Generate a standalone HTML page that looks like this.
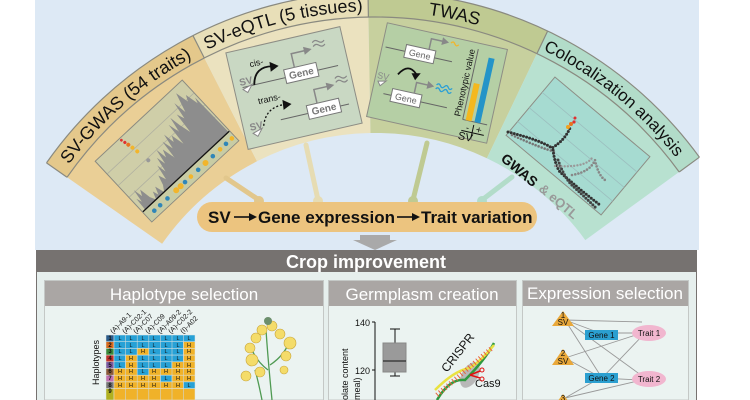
<!DOCTYPE html>
<html><head><meta charset="utf-8"><style>
html,body{margin:0;padding:0;background:#fff;overflow:hidden;}
svg{display:block;font-family:"Liberation Sans",Arial,sans-serif;}
</style></head><body>
<svg width="750" height="400" viewBox="0 0 750 400" xmlns="http://www.w3.org/2000/svg" xmlns:xlink="http://www.w3.org/1999/xlink">
<defs>
<path id="lab" d="M 44.2 202 A 382 382 0 0 1 705.8 202" />
</defs>
<rect x="35" y="0" width="664" height="250" fill="#dde9f5"/>
<path d="M 46.5 162.9 A 401 401 0 0 1 193.0 35.7 L 257.0 161.3 A 260 260 0 0 0 162.1 243.8 Z" fill="#eacf96"/>
<path d="M 193.0 35.7 A 401 401 0 0 1 368.0 -7.9 L 370.5 133.0 A 260 260 0 0 0 257.0 161.3 Z" fill="#ebe2bf"/>
<path d="M 368.0 -7.9 A 401 401 0 0 1 547.6 31.1 L 486.9 158.3 A 260 260 0 0 0 370.5 133.0 Z" fill="#c7d09e"/>
<path d="M 547.6 31.1 A 401 401 0 0 1 699.4 157.2 L 585.3 240.1 A 260 260 0 0 0 486.9 158.3 Z" fill="#b8e1d0"/>
<path d="M 46.5 162.9 A 401 401 0 0 1 193.0 35.7 L 204.3 58.0 A 376 376 0 0 0 67.0 177.3 Z" fill="#e4c88b"/>
<path d="M 193.0 35.7 A 401 401 0 0 1 368.0 -7.9 L 368.4 17.1 A 376 376 0 0 0 204.3 58.0 Z" fill="#e8dfb8"/>
<path d="M 368.0 -7.9 A 401 401 0 0 1 547.6 31.1 L 536.9 53.6 A 376 376 0 0 0 368.4 17.1 Z" fill="#bfca92"/>
<path d="M 547.6 31.1 A 401 401 0 0 1 699.4 157.2 L 679.2 172.0 A 376 376 0 0 0 536.9 53.6 Z" fill="#b2dcc9"/>
<g fill="none" stroke="#8a8a80" stroke-width="1.2">
<path d="M 46.5 162.9 A 401 401 0 0 1 699.4 157.2"/>
<path d="M 67.0 177.3 A 376 376 0 0 1 679.2 172.0"/>
<path d="M 46.5 162.9 L 67.0 177.3"/>
<path d="M 699.4 157.2 L 679.2 172.0"/>
<path d="M 193.0 35.7 L 204.3 58.0 M 368.0 -7.9 L 368.4 17.1 M 547.6 31.1 L 536.9 53.6"/>
</g>
<g font-size="18" fill="#111">
<text><textPath href="#lab" xlink:href="#lab" startOffset="127" text-anchor="middle">SV-GWAS (54 traits)</textPath></text>
<text><textPath href="#lab" xlink:href="#lab" startOffset="307" text-anchor="middle">SV-eQTL (5 tissues)</textPath></text>
<text><textPath href="#lab" xlink:href="#lab" startOffset="479" text-anchor="middle">TWAS</textPath></text>
<text font-size="17"><textPath href="#lab" xlink:href="#lab" startOffset="660" text-anchor="middle">Colocalization analysis</textPath></text>
</g>
<g stroke-width="5" stroke-linecap="round">
<line x1="226" y1="178" x2="259" y2="200" stroke="#e2c78c"/>
<line x1="306" y1="145" x2="318" y2="200" stroke="#e6dcb3"/>
<line x1="427" y1="143" x2="413" y2="200" stroke="#bfca92"/>
<line x1="512" y1="177" x2="482" y2="200" stroke="#b2dcc9"/>
</g>
<circle cx="259" cy="201" r="5" fill="#e2c78c"/><circle cx="318" cy="201" r="5" fill="#e6dcb3"/>
<circle cx="413" cy="201" r="5" fill="#bfca92"/><circle cx="482" cy="201" r="5" fill="#b2dcc9"/>
<!-- GWAS panel -->
<g transform="translate(167,151) rotate(-43)">
<rect x="-59.5" y="-41.5" width="119" height="83" fill="#cfcea8" stroke="#8a8a80"/>
<g stroke="#b0b0a0" stroke-width="0.8"><line x1="-59" y1="-24" x2="59" y2="-24"/><line x1="-59" y1="-8" x2="59" y2="-8"/><line x1="-59" y1="8" x2="59" y2="8"/></g>
<polygon points="-56,28 -55,14 -53,20 -51,6 -49,16 -46,10 -44,22 -41,28 -38,20 -36,26 -33,18 -30,28 -26,22 -23,12 -20,20 -17,4 -15,14 -12,-2 -10,8 -7,-8 -5,4 -2,-4 1,10 3,-10 6,2 9,-14 11,-2 14,-8 17,6 19,-18 22,-6 25,-22 27,-10 30,2 32,-20 35,-12 38,-30 40,-16 43,-26 46,-36 49,-22 52,-28 55,-14 57,-20 58,28" fill="#8d8d8d"/>
<circle cx="-20" cy="-6" r="2" fill="#999"/><circle cx="-22" cy="-20" r="2" fill="#f2b52b"/><circle cx="-23" cy="-26" r="2" fill="#f2b52b"/><circle cx="-24" cy="-31" r="2" fill="#e8731f"/><circle cx="-25" cy="-35" r="1.6" fill="#e03030"/><circle cx="-26" cy="-39" r="1.4" fill="#e03030"/>
<line x1="-59" y1="28" x2="59" y2="28" stroke="#111" stroke-width="1.3"/>
<rect x="-59" y="29" width="118" height="12" fill="#c8cca4"/>
<g fill="#2f86b8"><circle cx="-50" cy="35" r="2.3"/><circle cx="-42" cy="35" r="2.3"/><circle cx="-32" cy="35" r="2.3"/><circle cx="-8" cy="35" r="2.3"/><circle cx="10" cy="35" r="2.3"/><circle cx="30" cy="35" r="2.3"/><circle cx="48" cy="35" r="2.3"/></g>
<g fill="#f2b52b"><circle cx="-20" cy="35" r="3"/><circle cx="-14" cy="35" r="3"/><circle cx="0" cy="35" r="2.3"/><circle cx="20" cy="35" r="3"/><circle cx="40" cy="35" r="2.3"/><circle cx="56" cy="35" r="2.3"/></g>
</g>
<!-- eQTL panel -->
<g transform="translate(294,88) rotate(-13)">
<rect x="-58.5" y="-49.5" width="117" height="99" fill="#c9d8c3" stroke="#8d8d85"/>
<g stroke="#666" stroke-width="1"><line x1="-50" y1="-12" x2="48" y2="-12"/><line x1="-20" y1="28" x2="50" y2="28"/></g>
<rect x="-6" y="-20" width="33" height="14" fill="#fff" stroke="#777"/><text x="10.5" y="-9.5" font-size="10" font-weight="bold" fill="#777" text-anchor="middle">Gene</text>
<rect x="8" y="20" width="33" height="14" fill="#fff" stroke="#777"/><text x="24.5" y="30.5" font-size="10" font-weight="bold" fill="#777" text-anchor="middle">Gene</text>
<path d="M 5 -20 V -34 H 20" stroke="#888" stroke-width="1.5" fill="none"/><polygon points="18,-38 26,-34 18,-30" fill="#888"/>
<path d="M 19 20 V 6 H 34" stroke="#888" stroke-width="1.5" fill="none"/><polygon points="32,2 40,6 32,10" fill="#888"/>
<g stroke="#888" stroke-width="1.2" fill="none"><path d="M 28 -40 q 3 -3 6 0 t 6 0"/><path d="M 28 -36 q 3 -3 6 0 t 6 0"/><path d="M 42 0 q 3 -3 6 0 t 6 0"/><path d="M 42 4 q 3 -3 6 0 t 6 0"/></g>
<text x="-38" y="-30" font-size="9" fill="#111">cis-</text>
<path d="M -38 -12 Q -34 -30 -16 -26" stroke="#111" stroke-width="1.8" fill="none"/><polygon points="-18,-31 -10,-25 -19,-21" fill="#111"/>
<text x="-52" y="-14" font-size="10" font-weight="bold" fill="#888">SV</text><polygon points="-50,-10 -40,-13 -46,-6" fill="#fff" stroke="#888"/>
<text x="-38" y="8" font-size="9" fill="#111">trans-</text>
<path d="M -38 30 Q -32 12 -12 14" stroke="#111" stroke-width="1.3" stroke-dasharray="2 2" fill="none"/><polygon points="-14,9 -6,15 -15,19" fill="#111"/>
<text x="-52" y="32" font-size="10" font-weight="bold" fill="#888">SV</text><polygon points="-50,35 -40,32 -46,39" fill="#fff" stroke="#888"/>
</g>
<!-- TWAS panel -->
<g transform="translate(437,83) rotate(12.5)">
<rect x="-61.5" y="-48" width="123" height="96" fill="#b5cfa5" stroke="#8d8d85"/>
<g stroke="#666" stroke-width="1"><line x1="-58" y1="-24" x2="10" y2="-24"/><line x1="-50" y1="22" x2="15" y2="22"/></g>
<rect x="-38" y="-31" width="30" height="13" fill="#fff" stroke="#777"/><text x="-23" y="-21" font-size="9" fill="#666" text-anchor="middle">Gene</text>
<rect x="-42" y="15" width="30" height="13" fill="#fff" stroke="#777"/><text x="-27" y="25" font-size="9" fill="#666" text-anchor="middle">Gene</text>
<path d="M -15 -31 V -42 H -3" stroke="#888" stroke-width="1.5" fill="none"/><polygon points="-4,-46 3,-42 -4,-38" fill="#888"/>
<path d="M -20 15 V 4 H -8" stroke="#888" stroke-width="1.5" fill="none"/><polygon points="-9,0 -2,4 -9,8" fill="#888"/>
<path d="M 5 -42 q 2 -3 4 0 t 4 0" stroke="#f2b52b" stroke-width="1.3" fill="none"/>
<g stroke="#2a9fd6" stroke-width="1.3" fill="none"><path d="M 0 2 q 2 -3 4 0 t 4 0 t 4 0 t 4 0"/><path d="M 0 6 q 2 -3 4 0 t 4 0 t 4 0 t 4 0"/></g>
<path d="M -40 0 Q -32 -14 -22 -4" stroke="#111" stroke-width="1.8" fill="none"/><polygon points="-27,-4 -18,-6 -22,2" fill="#111"/>
<text x="-60" y="8" font-size="9" fill="#888">SV</text><polygon points="-58,11 -50,9 -55,15" fill="#fff" stroke="#888"/>
<line x1="33" y1="-42" x2="33" y2="30" stroke="#666"/><line x1="33" y1="30" x2="58" y2="30" stroke="#666"/>
<rect x="36" y="-8" width="6" height="38" fill="#f4b81f"/><rect x="45" y="-36" width="6" height="66" fill="#2494c8"/>
<text transform="translate(30,28) rotate(-90)" font-size="9" fill="#111">Phenotypic value</text>
<text x="38" y="40" font-size="9" fill="#111">-</text><text x="48" y="40" font-size="10" fill="#111">+</text>
<line x1="34" y1="41" x2="57" y2="41" stroke="#111"/><line x1="45" y1="33" x2="45" y2="47" stroke="#111"/>
<text x="32" y="50" font-size="11" fill="#111">SV</text>
</g>
<!-- Coloc panel -->
<g transform="translate(578,146) rotate(40)">
<rect x="-62" y="-38" width="124" height="76" fill="#a6dbd1" stroke="#8d8d85"/>
<g stroke="#9cbfbf" stroke-width="0.8"><line x1="-62" y1="-18" x2="62" y2="-18"/><line x1="-62" y1="2" x2="62" y2="2"/><line x1="-62" y1="20" x2="62" y2="20"/></g>
</g>
<g fill="none" stroke-linecap="round" stroke-dasharray="0 3.2">
<path d="M 508 132 Q 540 140 552 148 Q 565 140 570 128" stroke="#333" stroke-width="3"/>
<path d="M 512 135 Q 540 148 556 152" stroke="#777" stroke-width="2.6"/>
<path d="M 553 150 Q 555 165 560 172 Q 580 190 600 205" stroke="#333" stroke-width="3"/>
<path d="M 558 160 Q 565 180 575 188 Q 588 200 596 208" stroke="#444" stroke-width="3"/>
<path d="M 572 175 Q 590 172 595 160 Q 598 175 605 180" stroke="#888" stroke-width="2.6"/>
<path d="M 555 166 Q 585 168 592 158" stroke="#999" stroke-width="2.4"/>
</g>
<circle cx="568" cy="127" r="2" fill="#f2a21f"/><circle cx="571" cy="124" r="2" fill="#e8731f"/><circle cx="574" cy="122" r="1.6" fill="#e03030"/><circle cx="575" cy="118" r="1.5" fill="#e03030"/>
<text transform="translate(500,160) rotate(40)" font-size="14" font-weight="bold" fill="#111">GWAS</text>
<text transform="translate(538,190) rotate(40)" font-size="13" font-weight="bold" fill="#999">&amp; eQTL</text>
<!-- pill -->
<rect x="197" y="202" width="340" height="30" rx="15" fill="#ecc47f"/>
<g font-size="17" font-weight="bold" fill="#111">
<text x="208" y="223">SV</text>
<line x1="234" y1="217" x2="250" y2="217" stroke="#111" stroke-width="1.6"/><polygon points="249,213 257,217 249,221"/>
<text x="258" y="223">Gene expression</text>
<line x1="397" y1="217" x2="413" y2="217" stroke="#111" stroke-width="1.6"/><polygon points="412,213 420,217 412,221"/>
<text x="421" y="223">Trait variation</text>
</g>
<polygon points="360,235 390,235 390,240 397,240 375,250 353,240 360,240" fill="#a9a9a9"/>
<!-- crop improvement -->
<rect x="36" y="250" width="661" height="150" fill="#e6efed"/>
<rect x="36" y="250" width="661" height="22" fill="#767270"/>
<line x1="36.5" y1="250" x2="36.5" y2="400" stroke="#767270"/><line x1="696.5" y1="250" x2="696.5" y2="400" stroke="#767270"/>
<text x="366" y="268" font-size="18" font-weight="bold" fill="#fff" text-anchor="middle">Crop improvement</text>
<g stroke="#c4c8c6">
<rect x="44.5" y="280.5" width="279" height="119.5" fill="#ebf3f1"/>
<rect x="328.5" y="280.5" width="188" height="119.5" fill="#ebf3f1"/>
<rect x="522.5" y="280.5" width="166" height="119.5" fill="#ebf3f1"/>
</g>
<rect x="45" y="281" width="278" height="25" fill="#aaa6a4"/>
<rect x="329" y="281" width="187" height="25" fill="#aaa6a4"/>
<rect x="523" y="281" width="165" height="25" fill="#aaa6a4"/>
<g font-size="17" fill="#fff" text-anchor="middle">
<text x="184" y="300">Haplotype selection</text>
<text x="422" y="300">Germplasm creation</text>
<text x="605" y="299">Expression selection</text>
</g>
<g font-size="7" fill="#111">
<text transform="translate(113,334) rotate(-45)">(A)-A9-1</text>
<text transform="translate(125,334) rotate(-45)">(A)-C02-1</text>
<text transform="translate(136,334) rotate(-45)">(A)-C07</text>
<text transform="translate(148,334) rotate(-45)">(A)-C09</text>
<text transform="translate(160,334) rotate(-45)">(A)-A09-2</text>
<text transform="translate(171,334) rotate(-45)">(A)-C02-2</text>
<text transform="translate(183,334) rotate(-45)">(I)-A02</text>
</g>
<text transform="translate(99,385) rotate(-90)" font-size="9" fill="#111">Haplotypes</text>
<g stroke="#4f9a52" stroke-width="1.3" fill="none">
<path d="M 272 400 Q 268 360 266 330"/><path d="M 268 370 Q 255 360 250 345"/><path d="M 270 365 Q 285 355 290 340"/><path d="M 262 400 Q 258 380 255 370"/>
</g>
<g fill="#f4dc6a" stroke="#c9a53a" stroke-width="0.6">
<circle cx="262" cy="330" r="5"/><circle cx="272" cy="326" r="5"/><circle cx="280" cy="334" r="5"/><circle cx="256" cy="338" r="5"/><circle cx="250" cy="348" r="5"/><circle cx="290" cy="343" r="6"/><circle cx="286" cy="356" r="5"/><circle cx="252" cy="360" r="6"/><circle cx="260" cy="372" r="5"/><circle cx="246" cy="376" r="5"/><circle cx="284" cy="370" r="4"/>
</g>
<circle cx="268" cy="321" r="4" fill="#6c8f6c"/>
<line x1="375" y1="322" x2="375" y2="400" stroke="#111"/>
<line x1="372" y1="322" x2="375" y2="322" stroke="#111"/><line x1="372" y1="370" x2="375" y2="370" stroke="#111"/>
<text x="370" y="326" font-size="9" text-anchor="end" fill="#111">140</text>
<text x="370" y="374" font-size="9" text-anchor="end" fill="#111">120</text>
<text transform="translate(348,400) rotate(-90)" font-size="9" fill="#111">olate content</text>
<text transform="translate(360,400) rotate(-90)" font-size="9" fill="#111">meal)</text>
<line x1="395" y1="329" x2="395" y2="376" stroke="#111"/><line x1="390" y1="329" x2="400" y2="329" stroke="#111"/><line x1="390" y1="376" x2="400" y2="376" stroke="#111"/>
<rect x="383" y="343" width="23" height="29" fill="#9a9a9a" stroke="#888"/><line x1="383" y1="361" x2="406" y2="361" stroke="#111"/>
<ellipse cx="470" cy="375" rx="8" ry="14" fill="#b8b8b8" transform="rotate(30 470 375)"/>
<path d="M 437 400 Q 450 378 465 380 Q 485 360 494 343" stroke="#2f9a3f" stroke-width="2.5" fill="none"/>
<path d="M 435 390 Q 455 370 470 368 Q 482 360 494 345" stroke="#e9e240" stroke-width="2.5" fill="none"/>
<path d="M 437 395 L 492 348" stroke="#e8643a" stroke-width="5" stroke-dasharray="1 2.5" fill="none"/>
<text transform="translate(447,373) rotate(-52)" font-size="12" fill="#111">CRISPR</text>
<text x="475" y="387" font-size="11" fill="#111">Cas9</text>
<path d="M 470 375 l 10 -4 M 470 375 l 10 3" stroke="#e01010" stroke-width="1.5"/><circle cx="482" cy="370" r="2" fill="none" stroke="#e01010"/><circle cx="482" cy="379" r="2" fill="none" stroke="#e01010"/>
<g stroke="#999" stroke-width="0.9">
<line x1="565" y1="320" x2="642" y2="322"/><line x1="565" y1="320" x2="600" y2="333"/><line x1="565" y1="320" x2="602" y2="378"/><line x1="565" y1="320" x2="645" y2="378"/>
<line x1="565" y1="358" x2="642" y2="333"/><line x1="565" y1="358" x2="600" y2="377"/>
<line x1="565" y1="398" x2="600" y2="378"/><line x1="565" y1="398" x2="642" y2="380"/>
<line x1="600" y1="333" x2="640" y2="333"/><line x1="600" y1="378" x2="640" y2="380"/>
<line x1="602" y1="378" x2="645" y2="333"/>
</g>
<g fill="#e9a83a"><polygon points="563,311 552,326 574,326"/><polygon points="563,349 552,365 574,365"/><polygon points="563,394 554,406 572,406"/></g>
<g font-size="8" text-anchor="middle" fill="#111"><text x="563" y="318">1</text><text x="563" y="325">SV</text><text x="563" y="356">2</text><text x="563" y="364">SV</text><text x="563" y="401">3</text></g>
<rect x="585" y="330" width="33" height="10" fill="#2b9fd0"/><text x="601.5" y="338" font-size="8" text-anchor="middle" fill="#111">Gene 1</text>
<rect x="585" y="373" width="33" height="10" fill="#2b9fd0"/><text x="601.5" y="381" font-size="8" text-anchor="middle" fill="#111">Gene 2</text>
<ellipse cx="649" cy="333" rx="17" ry="8" fill="#f1b6cf"/><text x="649" y="336" font-size="8" text-anchor="middle" fill="#111">Trait 1</text>
<ellipse cx="649" cy="379" rx="17" ry="8" fill="#f1b6cf"/><text x="649" y="382" font-size="8" text-anchor="middle" fill="#111">Trait 2</text>
<g stroke="#dfe6e4" stroke-width="0.5">
<rect x="106" y="335" width="8" height="6.7" fill="#2a5b8a"/><rect x="106" y="341.7" width="8" height="6.7" fill="#d66a1f"/><rect x="106" y="348.4" width="8" height="6.7" fill="#3a8a3a"/><rect x="106" y="355.1" width="8" height="6.7" fill="#c0302a"/><rect x="106" y="361.8" width="8" height="6.7" fill="#7a5aa0"/><rect x="106" y="368.5" width="8" height="6.7" fill="#8b5a3a"/><rect x="106" y="375.2" width="8" height="6.7" fill="#c070b0"/><rect x="106" y="381.9" width="8" height="6.7" fill="#777"/><rect x="106" y="388.6" width="8" height="11.4" fill="#b0b020"/>
</g>
<g font-size="6" font-weight="bold" fill="#111" text-anchor="middle">
<text x="110" y="340">1</text><text x="110" y="347">2</text><text x="110" y="353">3</text><text x="110" y="360">4</text><text x="110" y="367">5</text><text x="110" y="373">6</text><text x="110" y="380">7</text><text x="110" y="387">8</text><text x="110" y="393">9</text>
</g>
<g stroke="#dfe6e4" stroke-width="0.5">
<rect x="114" y="335" width="81" height="6.7" fill="#27a1d6"/>
<rect x="114" y="341.7" width="69.4" height="6.7" fill="#27a1d6"/><rect x="183.4" y="341.7" width="11.6" height="6.7" fill="#f0b229"/>
<rect x="114" y="348.4" width="23.2" height="6.7" fill="#27a1d6"/><rect x="137.2" y="348.4" width="11.6" height="6.7" fill="#f0b229"/><rect x="148.8" y="348.4" width="34.6" height="6.7" fill="#27a1d6"/><rect x="183.4" y="348.4" width="11.6" height="6.7" fill="#f0b229"/>
<rect x="114" y="355.1" width="11.6" height="6.7" fill="#27a1d6"/><rect x="125.6" y="355.1" width="11.6" height="6.7" fill="#f0b229"/><rect x="137.2" y="355.1" width="46.2" height="6.7" fill="#27a1d6"/><rect x="183.4" y="355.1" width="11.6" height="6.7" fill="#f0b229"/>
<rect x="114" y="361.8" width="11.6" height="6.7" fill="#27a1d6"/><rect x="125.6" y="361.8" width="11.6" height="6.7" fill="#f0b229"/><rect x="137.2" y="361.8" width="34.6" height="6.7" fill="#27a1d6"/><rect x="171.8" y="361.8" width="23.2" height="6.7" fill="#f0b229"/>
<rect x="114" y="368.5" width="81" height="6.7" fill="#f0b229"/><rect x="137.2" y="368.5" width="11.6" height="6.7" fill="#27a1d6"/>
<rect x="114" y="375.2" width="81" height="6.7" fill="#f0b229"/><rect x="160.4" y="375.2" width="11.6" height="6.7" fill="#27a1d6"/>
<rect x="114" y="381.9" width="81" height="6.7" fill="#f0b229"/><rect x="183.4" y="381.9" width="11.6" height="6.7" fill="#27a1d6"/>
<rect x="114" y="388.6" width="81" height="11.4" fill="#f0b229"/>
</g>
<g stroke="#cfd8d6" stroke-width="0.6">
<line x1="125.6" y1="335" x2="125.6" y2="400"/><line x1="137.2" y1="335" x2="137.2" y2="400"/><line x1="148.8" y1="335" x2="148.8" y2="400"/><line x1="160.4" y1="335" x2="160.4" y2="400"/><line x1="172" y1="335" x2="172" y2="400"/><line x1="183.4" y1="335" x2="183.4" y2="400"/>
</g>
<g font-size="5.5" fill="#111" text-anchor="middle">
<text x="120" y="340">L</text><text x="131" y="340">L</text><text x="143" y="340">L</text><text x="154" y="340">L</text><text x="166" y="340">L</text><text x="178" y="340">L</text><text x="189" y="340">L</text>
<text x="120" y="347">L</text><text x="131" y="347">L</text><text x="143" y="347">L</text><text x="154" y="347">L</text><text x="166" y="347">L</text><text x="178" y="347">L</text><text x="189" y="347">H</text>
<text x="120" y="353">L</text><text x="131" y="353">L</text><text x="143" y="353">H</text><text x="154" y="353">L</text><text x="166" y="353">L</text><text x="178" y="353">L</text><text x="189" y="353">H</text>
<text x="120" y="360">L</text><text x="131" y="360">H</text><text x="143" y="360">L</text><text x="154" y="360">L</text><text x="166" y="360">L</text><text x="178" y="360">L</text><text x="189" y="360">H</text>
<text x="120" y="367">L</text><text x="131" y="367">H</text><text x="143" y="367">L</text><text x="154" y="367">L</text><text x="166" y="367">L</text><text x="178" y="367">H</text><text x="189" y="367">H</text>
<text x="120" y="373">H</text><text x="131" y="373">H</text><text x="143" y="373">L</text><text x="154" y="373">H</text><text x="166" y="373">H</text><text x="178" y="373">H</text><text x="189" y="373">H</text>
<text x="120" y="380">H</text><text x="131" y="380">H</text><text x="143" y="380">H</text><text x="154" y="380">H</text><text x="166" y="380">L</text><text x="178" y="380">H</text><text x="189" y="380">H</text>
<text x="120" y="387">H</text><text x="131" y="387">H</text><text x="143" y="387">H</text><text x="154" y="387">H</text><text x="166" y="387">H</text><text x="178" y="387">H</text><text x="189" y="387">L</text>
</g>
</svg>
</body></html>
